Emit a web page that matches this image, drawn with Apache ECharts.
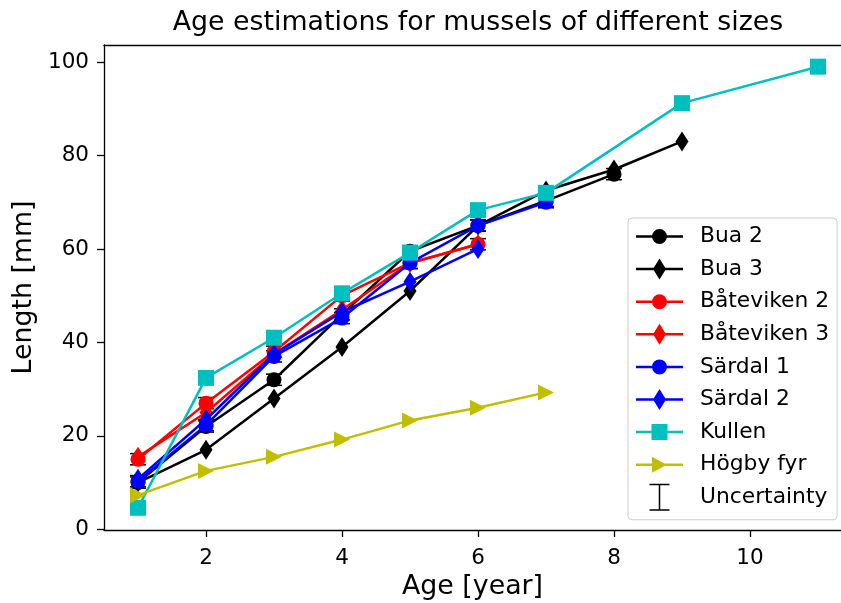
<!DOCTYPE html>
<html>
<head>
<meta charset="utf-8">
<script src="https://cdn.jsdelivr.net/npm/echarts@6/dist/echarts.min.js"></script>
<style>
  html, body { margin: 0; padding: 0; background: #fff; }
  #chart { width: 841px; height: 603px; }
</style>
</head>
<body>
<div id="chart"></div>
<script>
// ---------- DATA ----------
const bua2Age = [1, 2, 3, 4, 5, 6, 7, 8];
const bua2Len = [10, 22, 32, 46, 59.5, 65, 70.3, 76];
const bua3Age = [1, 2, 3, 4, 5, 6, 7, 8, 9];
const bua3Len = [10, 17, 28, 39, 51, 65, 72.5, 77, 83];
const bat2Age = [1, 2, 3, 4, 5, 6];
const bat2Len = [15, 27, 38, 50, 57, 61];
const bat3Age = [1, 2, 3, 4, 5, 6];
const bat3Len = [15.5, 25, 37.5, 47, 57, 61];
const sar1Age = [1, 2, 3, 4, 5, 6, 7];
const sar1Len = [10.3, 22.3, 37, 45.2, 57, 65, 70];
const sar2Age = [1, 2, 3, 4, 5, 6];
const sar2Len = [10.8, 23.5, 37.5, 46.5, 53, 60];
const kullenAge = [1, 2, 3, 4, 5, 6, 7, 9, 11];
const kullenLen = [4.6, 32.4, 41, 50.5, 59.2, 68.3, 72, 91.2, 99];
const hogbyAge = [1, 2, 3, 4, 5, 6, 7];
const hogbyLen = [7.3, 12.5, 15.5, 19.2, 23.3, 26, 29.3];
// uncertainty (± mm) for Bua 2, Båteviken 2, Särdal 1
const bua2Err = [1.2, 1.2, 1.2, 1.2, 1.2, 1.2, 1.2, 1.2];
const bat2Err = [1.2, 1.2, 1.2, 1.2, 1.2, 1.2];
const sar1Err = [1.2, 1.2, 1.2, 1.2, 1.2, 1.2, 1.2];

const xTicks = [2, 4, 6, 8, 10];
const yTicks = [0, 20, 40, 60, 80, 100];

// ---------- SHAPES ----------
const FONT = 'DejaVu Sans';
const BOX = 'M0,0 L0.01,0 L0,0.01 Z M59,27 L58.99,27 L59,26.99 Z ';
const LINE = 'M0,12.25 L47,12.25 L47,14.75 L0,14.75 Z ';
const icons = {
  circle: 'path://' + BOX + LINE + 'M16,13.5 A7.5,7.5 0 1 1 31,13.5 A7.5,7.5 0 1 1 16,13.5 Z',
  diamond: 'path://' + BOX + LINE + 'M23.5,3 L30,13.5 L23.5,24 L17,13.5 Z',
  square: 'path://' + BOX + LINE + 'M15.5,5.5 L31.5,5.5 L31.5,21.5 L15.5,21.5 Z',
  tri: 'path://' + BOX + LINE + 'M16,5.5 L31,13.5 L16,21.5 Z',
  ibeam: 'path://' + BOX + 'M22.75,0 L24.25,0 L24.25,27 L22.75,27 Z M13.5,0 L33.5,0 L33.5,1.5 L13.5,1.5 Z M13.5,25.5 L33.5,25.5 L33.5,27 L13.5,27 Z'
};
const symbols = {
  circle: { symbol: 'circle', size: 15 },
  diamond: { symbol: 'path://M0,0 L6,10 L0,20 L-6,10 Z', size: [13, 20] },
  square: { symbol: 'rect', size: 16 },
  tri: { symbol: 'path://M0,0 L16,8 L0,16 Z', size: [16, 16] }
};

const zip = (xs, ys) => xs.map((x, i) => [x, ys[i]]);

const sites = [
  { name: 'Bua 2', age: bua2Age, len: bua2Len, color: '#000000', mk: 'circle', err: bua2Err },
  { name: 'Bua 3', age: bua3Age, len: bua3Len, color: '#000000', mk: 'diamond', err: null },
  { name: 'Båteviken 2', age: bat2Age, len: bat2Len, color: '#ff0000', mk: 'circle', err: bat2Err },
  { name: 'Båteviken 3', age: bat3Age, len: bat3Len, color: '#ff0000', mk: 'diamond', err: null },
  { name: 'Särdal 1', age: sar1Age, len: sar1Len, color: '#0000ff', mk: 'circle', err: sar1Err },
  { name: 'Särdal 2', age: sar2Age, len: sar2Len, color: '#0000ff', mk: 'diamond', err: null },
  { name: 'Kullen', age: kullenAge, len: kullenLen, color: '#00bfbf', mk: 'square', err: null },
  { name: 'Högby fyr', age: hogbyAge, len: hogbyLen, color: '#bfbf00', mk: 'tri', err: null }
];

const errData = [];
sites.forEach(s => {
  if (!s.err) return;
  s.age.forEach((a, i) => errData.push([a, s.len[i] - s.err[i], s.len[i] + s.err[i]]));
});

const series = sites.map((s, i) => ({
  type: 'line',
  name: s.name,
  data: zip(s.age, s.len),
  z: 3 + i,
  symbol: symbols[s.mk].symbol,
  symbolSize: symbols[s.mk].size,
  showSymbol: true,
  lineStyle: { color: s.color, width: 2.5 },
  itemStyle: { color: s.color, borderWidth: 0 },
  emphasis: { disabled: true },
  silent: true
}));

series.push({
  type: 'custom',
  name: 'Uncertainty',
  z: 2,
  silent: true,
  itemStyle: { color: '#000000' },
  data: errData,
  encode: { x: 0, y: [1, 2] },
  renderItem: function (params, api) {
    const x = api.value(0);
    const lo = api.coord([x, api.value(1)]);
    const hi = api.coord([x, api.value(2)]);
    const cw = 8;
    const st = { stroke: '#000000', lineWidth: 1.5 };
    return {
      type: 'group',
      children: [
        { type: 'line', shape: { x1: lo[0], y1: lo[1], x2: hi[0], y2: hi[1] }, style: st },
        { type: 'line', shape: { x1: lo[0] - cw, y1: lo[1], x2: lo[0] + cw, y2: lo[1] }, style: st },
        { type: 'line', shape: { x1: hi[0] - cw, y1: hi[1], x2: hi[0] + cw, y2: hi[1] }, style: st }
      ]
    };
  }
});

const legendData = sites.map(s => ({ name: s.name, icon: icons[s.mk] }));
legendData.push({ name: 'Uncertainty', icon: icons.ibeam });

const X_MIN = 0.5;
const X_MAX = 0.5 + 737 / 68;  // axes extend past the right edge of the picture

const chart = echarts.init(document.getElementById('chart'), null, { renderer: 'canvas' });
chart.setOption({
  animation: false,
  backgroundColor: '#ffffff',
  textStyle: { fontFamily: FONT },
  title: {
    text: 'Age estimations for mussels of different sizes',
    left: 478,
    top: 10,
    padding: 0,
    textAlign: 'center',
    textStyle: { fontFamily: FONT, fontSize: 26.8, fontWeight: 'normal', color: '#000' }
  },
  grid: {
    left: 104, top: 45, right: 0, height: 485,
    show: false,
    containLabel: false,
    outerBoundsMode: 'none'
  },
  legend: {
    orient: 'vertical',
    left: 628,
    top: 218,
    padding: [5, 8, 9, 8],
    itemWidth: 59,
    itemHeight: 27,
    itemGap: 5.6,
    backgroundColor: 'rgba(255,255,255,0.8)',
    borderColor: '#cccccc',
    borderWidth: 1,
    borderRadius: 4,
    itemStyle: { borderWidth: 0 },
    textStyle: { fontFamily: FONT, fontSize: 21.8, color: '#000' },
    selectedMode: false,
    data: legendData
  },
  xAxis: [{
    type: 'value',
    min: X_MIN,
    max: X_MAX,
    name: 'Age [year]',
    nameLocation: 'middle',
    nameGap: 44,
    nameTextStyle: { fontFamily: FONT, fontSize: 26.8, color: '#000' },
    splitLine: { show: false },
    axisLine: { show: true, onZero: false, lineStyle: { color: '#000', width: 1.3 } },
    axisTick: { show: true, length: 7, lineStyle: { color: '#000', width: 1.3 }, customValues: xTicks },
    axisLabel: { fontFamily: FONT, fontSize: 21.5, color: '#000', margin: 17, customValues: xTicks }
  }, {
    type: 'value',
    position: 'top',
    min: X_MIN,
    max: X_MAX,
    splitLine: { show: false },
    axisLine: { show: true, onZero: false, lineStyle: { color: '#000', width: 1.3 } },
    axisTick: { show: false },
    axisLabel: { show: false }
  }],
  yAxis: {
    type: 'value',
    min: -0.15,
    max: 103.64,
    name: 'Length [mm]',
    nameLocation: 'middle',
    nameGap: 57,
    nameRotate: 90,
    nameTextStyle: { fontFamily: FONT, fontSize: 26.8, color: '#000' },
    splitLine: { show: false },
    axisLine: { show: true, onZero: false, lineStyle: { color: '#000', width: 1.3 } },
    axisTick: { show: true, length: 7, lineStyle: { color: '#000', width: 1.3 }, customValues: yTicks },
    axisLabel: { fontFamily: FONT, fontSize: 21.5, color: '#000', margin: 15, customValues: yTicks }
  },
  series: series
});
</script>
</body>
</html>
